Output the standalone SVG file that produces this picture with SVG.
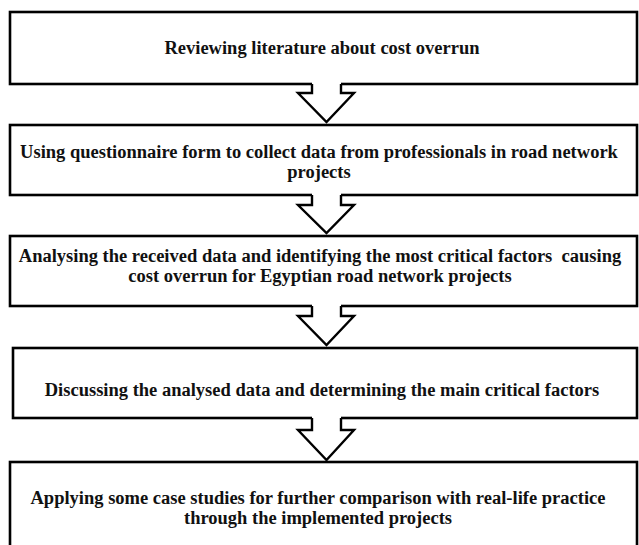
<svg xmlns="http://www.w3.org/2000/svg" width="639" height="545" viewBox="0 0 639 545">
<style>
.box{fill:#fff;stroke:#000;stroke-width:2.6}
.arw{fill:#fff;stroke:#000;stroke-width:2.4;stroke-linejoin:miter}
.cover{fill:#fff;stroke:none}
text{font-family:"Liberation Serif","Times New Roman",serif;font-weight:bold;font-size:18.5px;fill:#111;text-anchor:middle}
</style>
<rect width="639" height="545" fill="#fff"/>
<g id="node1"><rect class="box" x="10" y="12" width="627" height="72"/><text x="322" y="54">Reviewing literature about cost overrun</text></g>
<g id="node2"><rect class="box" x="10" y="125" width="627" height="70"/><text x="319" y="158">Using questionnaire form to collect data from professionals in road network</text><text x="319" y="178">projects</text></g>
<g id="node3"><rect class="box" x="10" y="236" width="627" height="70"/><text x="320" y="262" xml:space="preserve">Analysing the received data and identifying the most critical factors  causing</text><text x="320" y="282">cost overrun for Egyptian road network projects</text></g>
<g id="node4"><rect class="box" x="13" y="348" width="624" height="70"/><text x="322" y="396">Discussing the analysed data and determining the main critical factors</text></g>
<g id="node5"><rect class="box" x="10" y="462" width="627" height="100"/><text x="318" y="504">Applying some case studies for further comparison with real-life practice</text><text x="318" y="524">through the implemented projects</text></g>
<g id="connectors">
<g><rect class="cover" x="312" y="82" width="29" height="4"/><polyline class="arw" points="312,84 312,93 298,93 326.5,122 354,93 341,93 341,84"/></g>
<g><rect class="cover" x="312" y="193" width="29" height="4"/><polyline class="arw" points="312,195 312,205 298,205 326.5,233 354,205 341,205 341,195"/></g>
<g><rect class="cover" x="312" y="304" width="29" height="4"/><polyline class="arw" points="312,306 312,316 298,316 326.5,345 354,316 341,316 341,306"/></g>
<g><rect class="cover" x="312" y="416" width="29" height="4"/><polyline class="arw" points="312,418 312,430 298,430 326.5,460 354,430 341,430 341,418"/></g>
</g>
</svg>
